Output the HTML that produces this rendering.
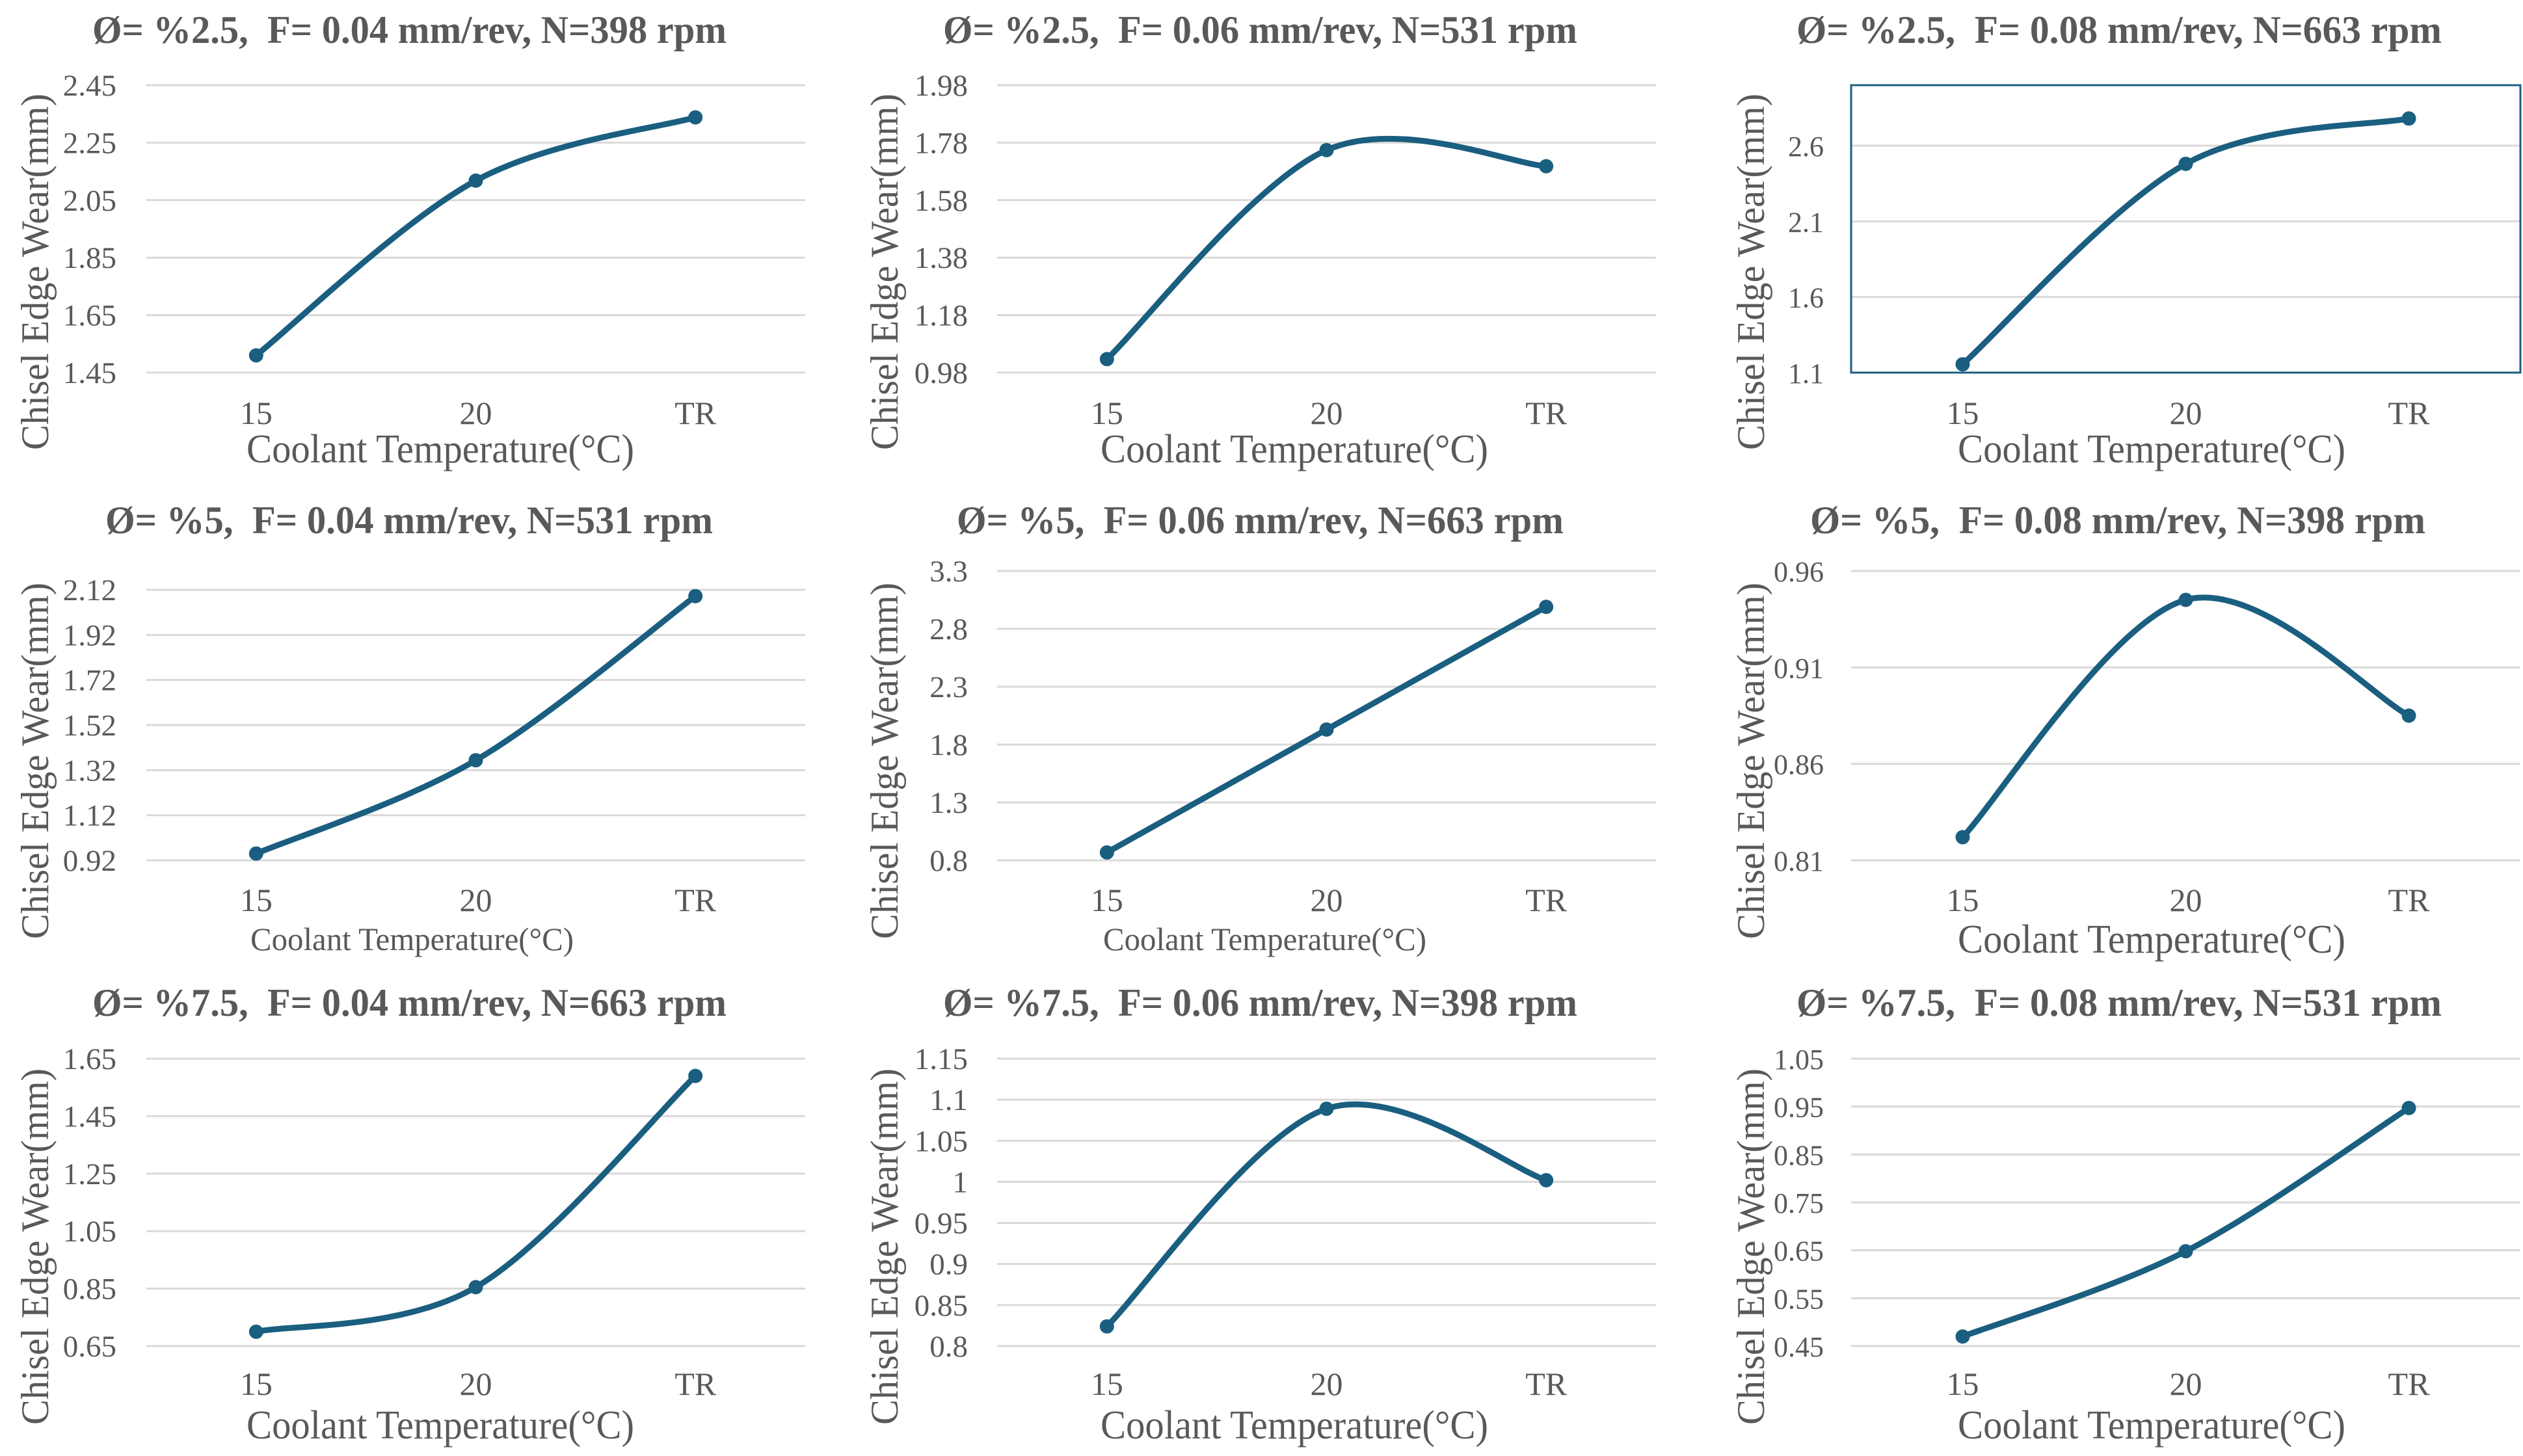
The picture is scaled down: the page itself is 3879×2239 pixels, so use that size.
<!DOCTYPE html>
<html><head><meta charset="utf-8">
<style>
html,body{margin:0;padding:0;background:#fff;}
svg{display:block;}
text{font-family:"Liberation Serif","Times New Roman",serif;fill:#595959;}
</style></head>
<body>
<svg id="fig" width="3879" height="2239" viewBox="0 0 3879 2239" xmlns="http://www.w3.org/2000/svg"></svg>
<script>
const categories = ['15', '20', 'TR'];
const wear_p1 = [1.51, 2.118, 2.338];
const wear_p2 = [1.027, 1.754, 1.698];
const wear_p3 = [1.155, 2.48, 2.78];
const wear_p4 = [0.95, 1.364, 2.092];
const wear_p5 = [0.868, 1.93, 2.99];
const wear_p6 = [0.822, 0.945, 0.885];
const wear_p7 = [0.70, 0.855, 1.59];
const wear_p8 = [0.824, 1.089, 1.002];
const wear_p9 = [0.47, 0.648, 0.947];
const ticks_p1 = ['1.45','1.65','1.85','2.05','2.25','2.45'];
const ticks_p2 = ['0.98','1.18','1.38','1.58','1.78','1.98'];
const ticks_p3 = ['1.1','1.6','2.1','2.6'];
const ticks_p4 = ['0.92','1.12','1.32','1.52','1.72','1.92','2.12'];
const ticks_p5 = ['0.8','1.3','1.8','2.3','2.8','3.3'];
const ticks_p6 = ['0.81','0.86','0.91','0.96'];
const ticks_p7 = ['0.65','0.85','1.05','1.25','1.45','1.65'];
const ticks_p8 = ['0.8','0.85','0.9','0.95','1','1.05','1.1','1.15'];
const ticks_p9 = ['0.45','0.55','0.65','0.75','0.85','0.95','1.05'];
const titles = [
 'Ø= %2.5,\u00A0 F= 0.04 mm/rev, N=398 rpm','Ø= %2.5,\u00A0 F= 0.06 mm/rev, N=531 rpm','Ø= %2.5,\u00A0 F= 0.08 mm/rev, N=663 rpm',
 'Ø= %5,\u00A0 F= 0.04 mm/rev, N=531 rpm','Ø= %5,\u00A0 F= 0.06 mm/rev, N=663 rpm','Ø= %5,\u00A0 F= 0.08 mm/rev, N=398 rpm',
 'Ø= %7.5,\u00A0 F= 0.04 mm/rev, N=663 rpm','Ø= %7.5,\u00A0 F= 0.06 mm/rev, N=398 rpm','Ø= %7.5,\u00A0 F= 0.08 mm/rev, N=531 rpm'];
const yMaxOverride = [null,null,3.0,null,null,null,null,null,null];

const series = [wear_p1,wear_p2,wear_p3,wear_p4,wear_p5,wear_p6,wear_p7,wear_p8,wear_p9];
const tickSets = [ticks_p1,ticks_p2,ticks_p3,ticks_p4,ticks_p5,ticks_p6,ticks_p7,ticks_p8,ticks_p9];

// layout (pixel geometry)
const colL = [225, 1533, 2846], colR = [1238, 2546, 3875];
const tickLabR = [179, 1488, 2804];
const yTitleBase = [74, 1380, 2712];
const titleBox = [[142,975],[1450,975],[2762,992]];
const titleBoxR2 = [[162,934],[1471,933],[2783,946]];
const xTitleC = [677, 1990, 3308];
const rowTitleY = [46, 800, 1542];
const rowBottom = [573, 1323, 2070];
const rowTickY = [635, 1384, 2128];
const rowXTitleY = [690, 1444, 2191];
const rowYTitleC = [418, 1170, 1917];
const tops = [131,131,131, 907,878,878, 1628,1628,1628];

const NS = 'http://www.w3.org/2000/svg';
const svg = document.getElementById('fig');
function mk(tag, attrs, parent){ const e=document.createElementNS(NS,tag); for(const k in attrs) e.setAttribute(k,attrs[k]); (parent||svg).appendChild(e); return e; }

for (let p=0;p<9;p++){
  const r=Math.floor(p/3), c=p%3;
  const g=mk('g',{});
  
  
  const L=colL[c], R=colR[c], B=rowBottom[r], T=tops[p];
  const ticks=tickSets[p].map(Number);
  const yMin=ticks[0], yMax=yMaxOverride[p]!==null?yMaxOverride[p]:ticks[ticks.length-1];
  const yS=v=>B-(v-yMin)/(yMax-yMin)*(B-T);
  const xS=i=>L+(i+0.5)*(R-L)/categories.length;
  // title
  const tb = r===1 ? titleBoxR2[c] : titleBox[c];
  const t=mk('text',{x:tb[0],y:rowTitleY[r]+20,'font-size':60,'font-weight':'bold',textLength:tb[1],lengthAdjust:'spacingAndGlyphs'},g);
  t.textContent=titles[p];
  
  
  // gridlines + tick labels
  tickSets[p].forEach(lbl=>{
    const y=yS(Number(lbl));
    const gl=mk('line',{x1:L,x2:R,y1:y,y2:y,stroke:'#d9d9d9','stroke-width':3},g);
    
    
    const tl=mk('text',{x:tickLabR[c],y:y+16,'font-size':c===2?44:47,'text-anchor':'end'},g);
    tl.textContent=lbl;
    
    
  });
  if (p===2){
    const bx=mk('rect',{x:L,y:T,width:R-L,height:B-T,fill:'none',stroke:'#1a5e80','stroke-width':3},g);
    
    
  }
  // x tick labels
  categories.forEach((cat,i)=>{
    const xl=mk('text',{x:xS(i),y:rowTickY[r]+17,'font-size':50,'text-anchor':'middle'},g);
    xl.textContent=cat;
    
    
  });
  // axis titles
  const small=(p===3||p===4);
  let xx = xTitleC[c]-298;
  if(p===3) xx=385;
  if(p===4) xx=1696;
  const xt=mk('text',{x:xx,y:rowXTitleY[r]+(small?17:21),'font-size':small?50:62,textLength:small?497:596,lengthAdjust:'spacingAndGlyphs'},g);
  xt.textContent='Coolant Temperature(°C)';
  
  
  const yx=yTitleBase[c], yc=rowYTitleC[r];
  const yt=mk('text',{x:0,y:0,'font-size':60,'text-anchor':'middle',textLength:548,lengthAdjust:'spacingAndGlyphs',transform:`translate(${yx} ${yc}) rotate(-90)`},g);
  yt.textContent='Chisel Edge Wear(mm)';
  
  
  // smoothed line
  const pts=series[p].map((v,i)=>[xS(i),yS(v)]);
  let d=`M${pts[0][0]},${pts[0][1]}`;
  for(let i=0;i<pts.length-1;i++){
    const p0=pts[Math.max(i-1,0)], p1=pts[i], p2=pts[i+1], p3=pts[Math.min(i+2,pts.length-1)];
    const c1=[p1[0]+(p2[0]-p0[0])/6, p1[1]+(p2[1]-p0[1])/6];
    const c2=[p2[0]-(p3[0]-p1[0])/6, p2[1]-(p3[1]-p1[1])/6];
    d+=` C${c1[0]},${c1[1]} ${c2[0]},${c2[1]} ${p2[0]},${p2[1]}`;
  }
  const ln=mk('path',{d:d,fill:'none',stroke:'#1a5e80','stroke-width':9,'stroke-linecap':'round'},g);
  
  
  pts.forEach(pt=>{
    const m=mk('circle',{cx:pt[0],cy:pt[1],r:11,fill:'#1a5e80'},g);
    
    
  });
}
</script>
</body></html>
